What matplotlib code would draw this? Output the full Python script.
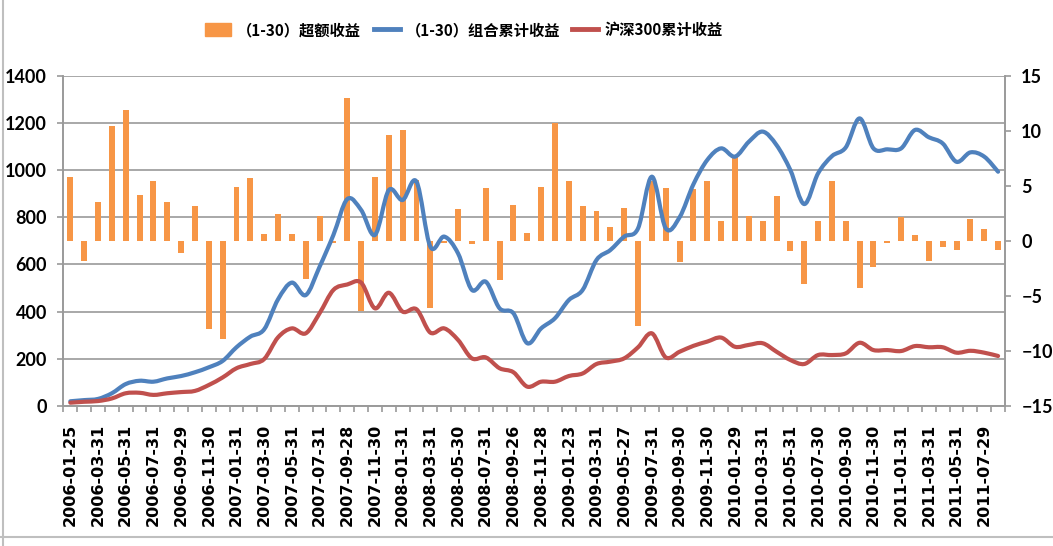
import matplotlib
matplotlib.use("Agg")
import matplotlib.pyplot as plt
from matplotlib.path import Path
from matplotlib.patches import PathPatch, Patch
from matplotlib.lines import Line2D
import numpy as np

# monthly excess return (%), right axis
excess = [5.8, -1.8, 3.5, 10.4, 11.9, 4.2, 5.4, 3.5, -1.1, 3.2,
          -8.0, -8.9, 4.9, 5.7, 0.6, 2.4, 0.6, -3.5, 2.3, -0.15,
          13.0, -6.4, 5.8, 9.6, 10.1, 5.5, -6.1, -0.15, 2.9, -0.3,
          4.8, -3.6, 3.3, 0.7, 4.9, 10.7, 5.4, 3.2, 2.7, 1.3,
          3.0, -7.7, 5.4, 4.8, -1.9, 4.7, 5.4, 1.8, 7.7, 2.3,
          1.8, 4.1, -0.9, -3.9, 1.8, 5.4, 1.8, -4.3, -2.4, -0.2,
          2.2, 0.5, -1.8, -0.6, -0.8, 2.0, 1.1, -0.8]

# cumulative returns (%), left axis
portfolio_cum = [20, 25, 30, 54, 93, 107, 103, 117, 127, 143,
                 164, 191, 249, 294, 325, 452, 523, 470, 590, 725,
                 877, 831, 725, 915, 873, 951, 675, 718, 647, 492,
                 527, 414, 393, 266, 329, 372, 449, 492, 619, 661,
                 718, 753, 972, 753, 800, 940, 1043, 1092, 1057, 1120,
                 1163, 1106, 1000, 856, 986, 1059, 1096, 1219, 1092, 1088,
                 1092, 1170, 1139, 1113, 1035, 1075, 1057, 993]

hs300_cum = [14, 18, 21, 32, 54, 56, 47, 54, 59, 64,
             89, 121, 160, 178, 199, 291, 329, 308, 393, 492,
             515, 523, 414, 480, 400, 410, 311, 329, 280, 202,
             206, 160, 143, 82, 103, 103, 127, 138, 178, 188,
             202, 249, 308, 206, 230, 255, 273, 290, 251, 259,
             266, 230, 195, 178, 216, 216, 223, 268, 237, 237,
             233, 254, 249, 249, 226, 234, 226, 212]

tick_labels = ["2006-01-25", "2006-03-31", "2006-05-31", "2006-07-31", "2006-09-29",
               "2006-11-30", "2007-01-31", "2007-03-30", "2007-05-31", "2007-07-31",
               "2007-09-28", "2007-11-30", "2008-01-31", "2008-03-31", "2008-05-30",
               "2008-07-31", "2008-09-26", "2008-11-28", "2009-01-23", "2009-03-31",
               "2009-05-27", "2009-07-31", "2009-09-30", "2009-11-30", "2010-01-29",
               "2010-03-31", "2010-05-31", "2010-07-30", "2010-09-30", "2010-11-30",
               "2011-01-31", "2011-03-31", "2011-05-31", "2011-07-29"]

ORANGE = "#F79646"
BLUE = "#4F81BD"
RED = "#C0504D"
GRID = "#9A9A9A"
CJK = ["Noto Sans CJK SC", "DejaVu Sans"]
NUM = ["Liberation Sans Narrow", "Lato", "DejaVu Sans"]


def smooth_path(xs, ys):
    # excel-style smoothed line: cubic bezier through every point
    pts = np.column_stack([xs, ys]).astype(float)
    n = len(pts)
    verts = [pts[0]]
    codes = [Path.MOVETO]
    for i in range(n - 1):
        p0 = pts[max(i - 1, 0)]
        p1 = pts[i]
        p2 = pts[i + 1]
        p3 = pts[min(i + 2, n - 1)]
        verts += [p1 + (p2 - p0) / 6, p2 - (p3 - p1) / 6, p2]
        codes += [Path.CURVE4] * 3
    return Path(verts, codes)


fig = plt.figure(figsize=(10.53, 5.46), dpi=100)
pos = [63.4 / 1053, 1 - 406 / 546, (1005 - 63.4) / 1053, (406 - 75.7) / 546]

x = np.arange(len(excess))

# left axis with gridlines
ax = fig.add_axes(pos)
ax.set_zorder(0)
ax.set_xlim(-0.5, len(excess) - 0.5)
ax.set_ylim(0, 1400)
ax.set_yticks(range(0, 1401, 200))
ax.yaxis.grid(True, color=GRID, lw=1.2)
ax.set_axisbelow(True)

# right axis with bars
axb = ax.twinx()
axb.set_zorder(1)
axb.patch.set_visible(False)
axb.bar(x, excess, width=0.43, color=ORANGE)
axb.set_ylim(-15, 15)
axb.set_yticks(range(-15, 16, 5))

# lines on left scale, drawn on top
axl = fig.add_axes(pos, sharex=ax, sharey=ax)
axl.set_zorder(2)
axl.patch.set_visible(False)
axl.axis("off")
axl.add_patch(PathPatch(smooth_path(x, portfolio_cum), fill=False, ec=BLUE, lw=3,
                        capstyle="round", joinstyle="round"))
axl.add_patch(PathPatch(smooth_path(x, hs300_cum), fill=False, ec=RED, lw=3,
                        capstyle="round", joinstyle="round"))

for a in (ax, axb):
    for side in a.spines:
        a.spines[side].set_color(GRID)
        a.spines[side].set_linewidth(1.2)
    a.spines["top"].set_visible(False)
    a.tick_params(axis="y", color=GRID, length=4.2, width=1.2, pad=7.5)
    for t in a.get_yticklabels():
        t.set_fontfamily(NUM)
        t.set_fontweight("bold")
        t.set_fontsize(13)

ax.set_xticks(np.arange(0, len(excess), 2))
ax.set_xticklabels(tick_labels, rotation=90, fontsize=11.5, fontweight="bold",
                   family="DejaVu Sans")
ax.set_xticks(np.arange(-0.5, len(excess), 1), minor=True)
ax.tick_params(axis="x", which="major", length=0, pad=13)
ax.tick_params(axis="x", which="minor", length=4.3, width=1.2, color=GRID)

handles = [Patch(color=ORANGE),
           Line2D([], [], color=BLUE, lw=3.5),
           Line2D([], [], color=RED, lw=3.5)]
labels = ["（1-30）超额收益", "（1-30）组合累计收益", "沪深300累计收益"]
fig.legend(handles, labels, loc="center", bbox_to_anchor=(464 / 1053, 1 - 30 / 546),
           ncol=3, frameon=False, handlelength=1.7, handleheight=0.9,
           handletextpad=0.4, columnspacing=0.8,
           prop={"family": CJK, "weight": "bold", "size": 11})

# outer chart border (left and bottom visible in the crop)
fig.add_artist(Line2D([3 / 1053, 3 / 1053], [0, 1], color="#BFBFBF", lw=1.5))
fig.add_artist(Line2D([0, 1], [1 - 537 / 546] * 2, color="#BFBFBF", lw=1.5))

fig.savefig("out.png", dpi=100)
